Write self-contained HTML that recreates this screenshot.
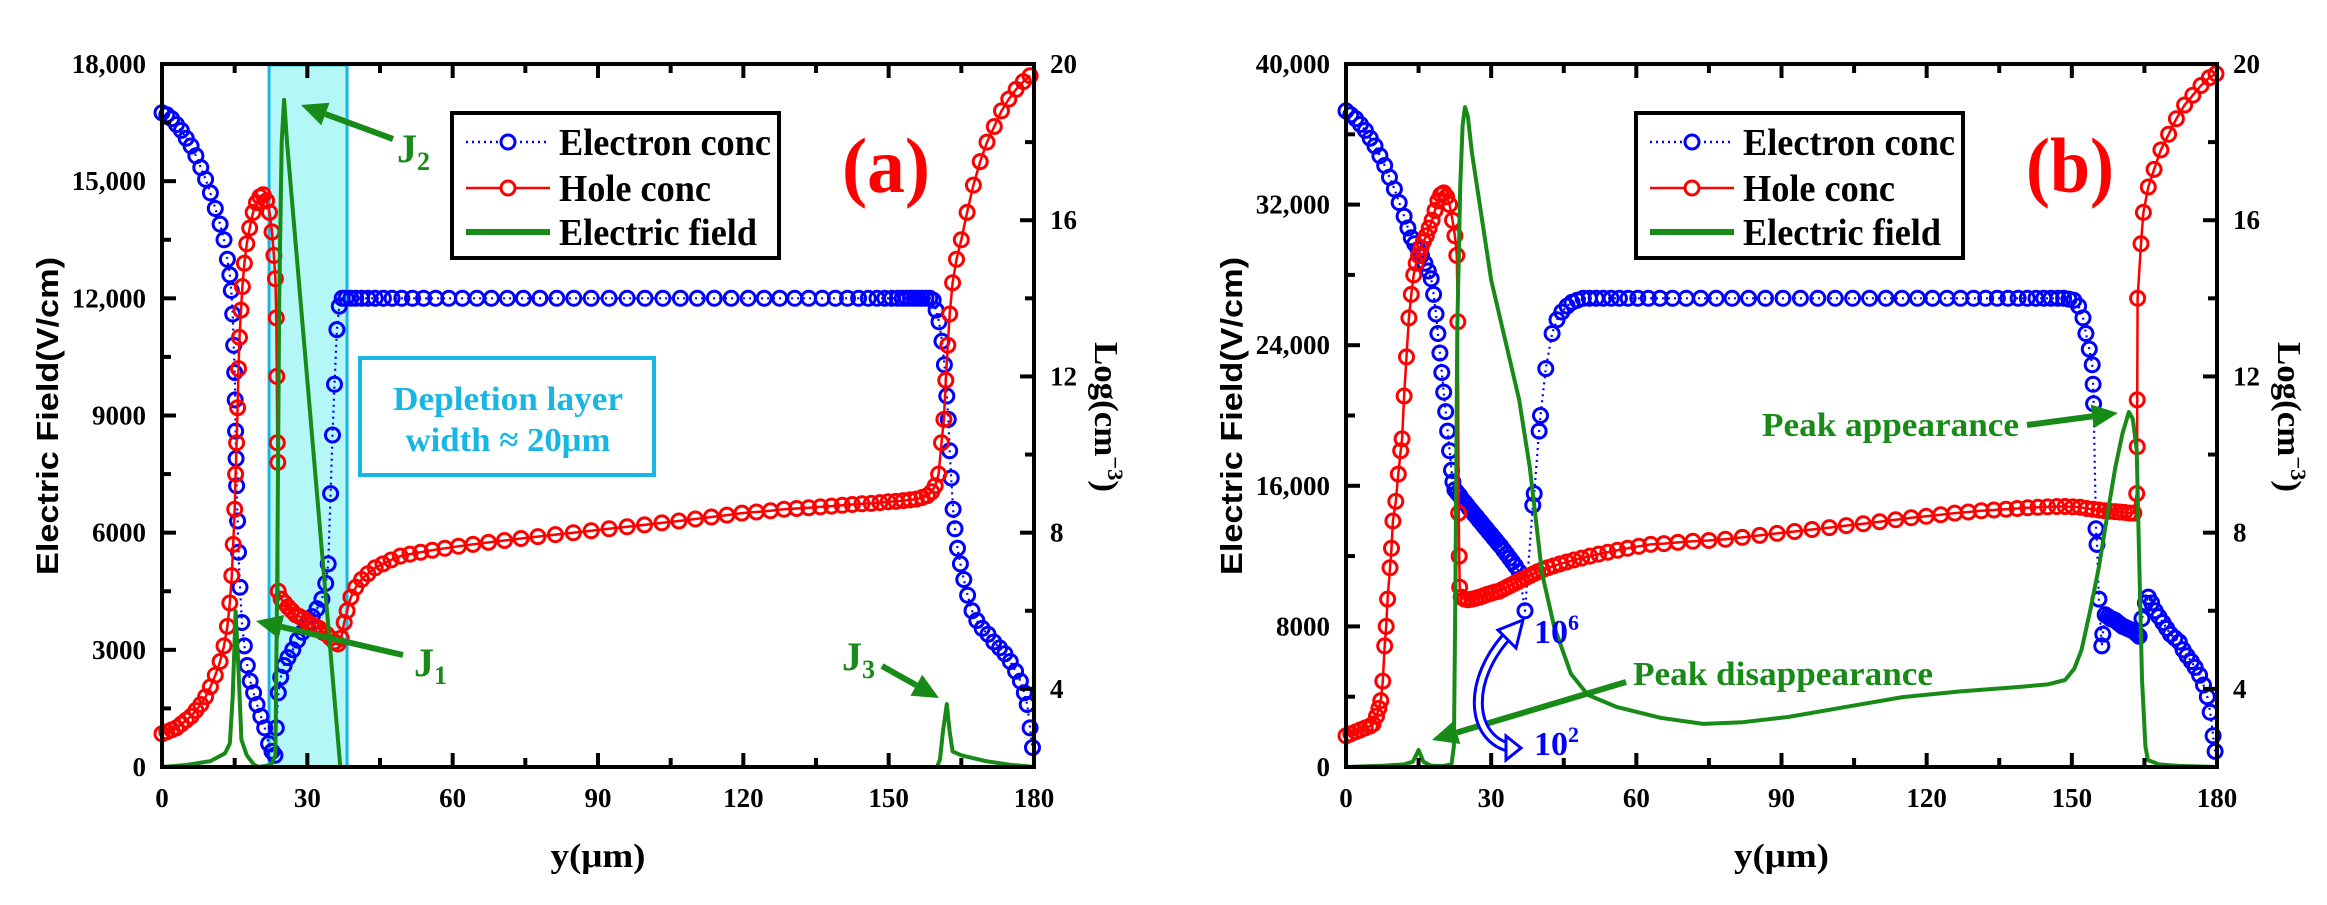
<!DOCTYPE html>
<html><head><meta charset="utf-8">
<style>
html,body{margin:0;padding:0;background:#fff;}
svg{display:block;}
text{font-family:"Liberation Serif","DejaVu Serif",serif;font-weight:bold;}
</style></head>
<body>
<svg id="chart" width="2327" height="905" viewBox="0 0 2327 905" xmlns="http://www.w3.org/2000/svg"></svg>
<script>
// ---------- DATA (x in µm, concentration as log10(cm^-3), field in V/cm) ----------
const electronA = [[0,18.75],[1,18.7],[2,18.6],[3,18.45],[4,18.3],[5,18.1],[6,17.9],[7,17.65],[8,17.35],[9,17.05],[10,16.7],[11,16.3],[12,15.9],[12.8,15.5],[13.5,15.0],[14,14.6],[14.3,14.2],[14.6,13.6],[14.8,12.8],[15,12.1],[15.1,11.4],[15.2,10.6],[15.3,9.9],[15.4,9.2],[15.6,8.3],[15.8,7.5],[16.1,6.6],[16.5,5.7],[17,5.1],[17.6,4.6],[18.2,4.2],[18.9,3.9],[19.6,3.6],[20.4,3.3],[21.2,3.0],[22,2.6],[22.7,2.4],[23.3,2.3],[23.6,3.0],[24,3.9],[24.5,4.3],[25.2,4.6],[26,4.8],[27,5.0],[28,5.25],[29,5.45],[30,5.65],[31,5.85],[32,6.05],[33,6.3],[33.8,6.7],[34.3,7.2],[34.8,9.0],[35.2,10.5],[35.6,11.8],[36.1,13.2],[36.6,13.8],[37.2,14.0],[38,14.0],[39,14.0],[40,14.0],[41.2,14.0],[42.5,14.0],[44,14.0],[45.7,14.0],[47.5,14.0],[49.5,14.0],[51.7,14.0],[54,14.0],[56.5,14.0],[59.2,14.0],[62,14.0],[65,14.0],[68,14.0],[71.3,14.0],[74.6,14.0],[78,14.0],[81.5,14.0],[85,14.0],[88.6,14.0],[92.3,14.0],[96,14.0],[99.7,14.0],[103.4,14.0],[107,14.0],[110.5,14.0],[114,14.0],[117.5,14.0],[121,14.0],[124.3,14.0],[127.5,14.0],[130.6,14.0],[133.5,14.0],[136.3,14.0],[139,14.0],[141.5,14.0],[143.8,14.0],[145.8,14.0],[147.6,14.0],[149.2,14.0],[150.6,14.0],[151.8,14.0],[152.8,14.0],[153.7,14.0],[154.5,14.0],[155.3,14.0],[156.1,14.0],[156.9,14.0],[157.7,14.0],[158.5,14.0],[159.2,13.95],[159.8,13.7],[160.4,13.4],[161,12.9],[161.5,12.3],[162,11.5],[162.3,10.9],[162.6,10.1],[162.9,9.4],[163.3,8.6],[163.7,8.1],[164.2,7.6],[164.8,7.2],[165.5,6.8],[166.3,6.4],[167.2,6.0],[168.2,5.75],[169.3,5.55],[170.5,5.4],[171.7,5.2],[172.9,5.05],[174,4.9],[175.1,4.7],[176.2,4.45],[177.2,4.2],[178,3.9],[178.6,3.6],[179.2,3.0],[179.7,2.5]];
const holeA = [[0,2.85],[1,2.9],[2,2.95],[3,3.0],[4,3.1],[5,3.2],[6,3.3],[7,3.45],[8,3.6],[9,3.8],[10,4.05],[11,4.35],[12,4.7],[12.8,5.1],[13.5,5.6],[14,6.2],[14.4,6.9],[14.7,7.7],[15,8.6],[15.2,9.5],[15.4,10.3],[15.6,11.2],[15.8,12.2],[16,13.0],[16.3,13.7],[16.6,14.3],[17,14.9],[17.5,15.4],[18.1,15.8],[18.8,16.2],[19.5,16.45],[20.2,16.6],[20.9,16.65],[21.6,16.5],[22.2,16.2],[22.7,15.7],[23.1,15.1],[23.4,14.5],[23.6,13.5],[23.7,12.0],[23.8,10.3],[23.9,9.8],[24.0,6.5],[24.6,6.3],[25.3,6.2],[26,6.1],[26.8,6.0],[27.6,5.9],[28.4,5.85],[29.2,5.8],[30,5.7],[30.8,5.65],[31.6,5.6],[32.4,5.55],[33.2,5.45],[34,5.4],[34.8,5.3],[35.6,5.2],[36.3,5.15],[37,5.3],[37.6,5.7],[38.2,6.0],[39,6.35],[40,6.6],[41.2,6.8],[42.5,6.95],[44,7.1],[45.6,7.2],[47.3,7.3],[49.2,7.4],[51.2,7.45],[53.4,7.5],[55.8,7.55],[58.4,7.6],[61.2,7.65],[64.2,7.7],[67.4,7.75],[70.7,7.8],[74.1,7.85],[77.6,7.9],[81.2,7.95],[84.9,8.0],[88.6,8.05],[92.3,8.1],[96,8.15],[99.6,8.2],[103.2,8.25],[106.7,8.3],[110.1,8.35],[113.4,8.4],[116.6,8.45],[119.7,8.5],[122.7,8.53],[125.6,8.56],[128.4,8.6],[131,8.62],[133.5,8.64],[135.9,8.66],[138.2,8.68],[140.4,8.7],[142.5,8.72],[144.5,8.74],[146.4,8.75],[148.2,8.77],[149.9,8.79],[151.5,8.8],[153,8.82],[154.4,8.84],[155.7,8.86],[156.9,8.9],[158,8.95],[158.9,9.05],[159.6,9.2],[160.3,9.5],[160.9,10.3],[161.4,10.9],[161.8,11.9],[162.2,12.8],[162.6,13.6],[163.2,14.4],[164,15.0],[165,15.5],[166.2,16.2],[167.5,16.9],[168.9,17.5],[170.3,18.0],[171.8,18.4],[173.3,18.8],[174.8,19.1],[176.3,19.35],[177.8,19.55],[179.2,19.7]];
const fieldA = [[0,0],[5,50],[10,150],[13,350],[14,600],[14.6,1800],[15.2,3990],[15.8,2500],[16.4,700],[17.5,300],[19,60],[20,0],[22.5,50],[23.4,300],[23.8,5000],[24.2,12000],[24.7,16000],[25.2,17080],[25.8,16000],[36.8,0],[60,0],[160,0],[160.6,200],[161.2,900],[162,1610],[162.6,900],[163.2,400],[165,300],[170,150],[175,60],[180,0]];

const electronB = [[0,18.8],[1,18.7],[2,18.6],[3,18.45],[4,18.3],[5,18.1],[6,17.9],[7,17.65],[8,17.4],[9,17.1],[10,16.8],[11,16.45],[12,16.1],[12.8,15.8],[13.5,15.55],[14.2,15.4],[14.9,15.25],[15.6,15.1],[16.3,14.9],[17,14.7],[17.6,14.5],[18.1,14.1],[18.6,13.6],[19,13.1],[19.4,12.6],[19.8,12.1],[20.2,11.6],[20.6,11.1],[21,10.6],[21.4,10.1],[21.8,9.6],[22.1,9.3],[22.5,9.1],[23,9.02],[23.5,8.95],[24,8.85],[24.5,8.78],[25,8.7],[25.5,8.62],[26,8.55],[26.5,8.47],[27,8.4],[27.5,8.32],[28,8.25],[28.5,8.17],[29,8.1],[29.5,8.02],[30,7.95],[30.5,7.87],[31,7.8],[31.5,7.72],[32,7.65],[32.6,7.55],[33.2,7.45],[33.8,7.35],[34.4,7.25],[35,7.15],[35.8,7.0],[37,6.0],[38.6,8.7],[38.9,9.0],[39.9,10.6],[40.2,11.0],[41.3,12.2],[42.6,13.1],[43.6,13.45],[44.6,13.65],[45.7,13.8],[46.7,13.9],[47.8,13.95],[49,14.0],[50.3,14.0],[51.7,14.0],[53.2,14.0],[54.8,14.0],[56.5,14.0],[58.3,14.0],[60.3,14.0],[62.5,14.0],[64.9,14.0],[67.5,14.0],[70.3,14.0],[73.3,14.0],[76.5,14.0],[79.8,14.0],[83.2,14.0],[86.7,14.0],[90.3,14.0],[93.9,14.0],[97.5,14.0],[101.1,14.0],[104.7,14.0],[108.2,14.0],[111.6,14.0],[114.9,14.0],[118.1,14.0],[121.2,14.0],[124.2,14.0],[127,14.0],[129.7,14.0],[132.2,14.0],[134.6,14.0],[136.8,14.0],[138.9,14.0],[140.8,14.0],[142.6,14.0],[144.2,14.0],[145.7,14.0],[147.1,14.0],[148.3,14.0],[149.4,13.98],[150.4,13.95],[151.4,13.8],[152.3,13.5],[152.9,13.1],[153.6,12.7],[154.2,12.3],[154.4,11.8],[154.5,11.3],[155,8.1],[155.2,7.7],[155.6,6.3],[156.2,5.1],[156.4,5.4],[156.9,5.9],[157.5,5.85],[158,5.8],[158.5,5.78],[159,5.75],[159.5,5.7],[160,5.65],[160.5,5.6],[161,5.58],[161.5,5.55],[162,5.52],[162.5,5.5],[163,5.45],[163.5,5.4],[163.9,5.35],[164.5,5.8],[165.2,6.2],[165.8,6.35],[166.5,6.2],[167.2,6.0],[168,5.85],[168.8,5.7],[169.6,5.55],[170.4,5.4],[171.3,5.3],[172.2,5.2],[173,5.0],[173.8,4.85],[174.7,4.7],[175.5,4.55],[176.4,4.35],[177.2,4.1],[178,3.8],[178.6,3.4],[179.2,2.8],[179.6,2.4]];
const holeB = [[0,2.8],[1,2.85],[2,2.9],[3,2.95],[4,3.0],[5,3.05],[5.6,3.1],[6.3,3.3],[6.8,3.5],[7.2,3.7],[7.6,4.2],[8,5.1],[8.3,5.6],[8.6,6.3],[9.1,7.1],[9.4,7.6],[9.7,8.3],[10.3,8.8],[10.8,9.5],[11.3,10.1],[11.6,10.4],[12,11.5],[12.5,12.5],[13,13.5],[13.5,14.1],[14,14.6],[14.5,14.9],[15,15.1],[15.5,15.3],[16,15.45],[16.6,15.6],[17.2,15.8],[17.8,16.0],[18.4,16.25],[19,16.5],[19.6,16.65],[20.2,16.7],[20.8,16.6],[21.4,16.4],[22,16.0],[22.5,15.6],[22.9,15.1],[23.1,13.4],[23.3,8.5],[23.4,7.4],[23.5,6.6],[23.8,6.35],[24.5,6.3],[25.2,6.28],[26,6.3],[26.8,6.32],[27.6,6.35],[28.4,6.38],[29.2,6.42],[30,6.45],[30.8,6.48],[31.6,6.5],[32.4,6.55],[33.2,6.6],[34,6.65],[34.8,6.7],[35.6,6.75],[36.4,6.8],[37.2,6.85],[38,6.9],[38.8,6.95],[39.6,7.0],[40.6,7.05],[41.7,7.1],[42.9,7.15],[44.2,7.2],[45.6,7.25],[47.1,7.3],[48.7,7.35],[50.4,7.4],[52.2,7.45],[54.1,7.5],[56.1,7.55],[58.2,7.6],[60.5,7.65],[63,7.7],[65.7,7.72],[68.6,7.75],[71.7,7.78],[75,7.8],[78.4,7.83],[81.9,7.88],[85.5,7.93],[89.1,7.98],[92.7,8.03],[96.3,8.08],[99.9,8.13],[103.4,8.18],[106.9,8.23],[110.3,8.28],[113.6,8.33],[116.8,8.38],[119.9,8.42],[122.9,8.46],[125.8,8.5],[128.6,8.53],[131.3,8.56],[133.9,8.58],[136.4,8.6],[138.7,8.62],[140.9,8.64],[143,8.65],[145,8.66],[146.9,8.67],[148.6,8.67],[150.2,8.66],[151.7,8.65],[153.1,8.62],[154.4,8.6],[155.6,8.58],[156.7,8.56],[157.8,8.55],[158.9,8.54],[159.9,8.53],[160.9,8.52],[161.9,8.5],[162.8,8.5],[163.4,9.0],[163.5,10.2],[163.5,11.4],[163.6,14.0],[164.3,15.4],[164.8,16.2],[165.8,16.85],[167,17.3],[168.4,17.8],[170,18.2],[171.6,18.6],[173.3,18.95],[175,19.2],[176.7,19.45],[178.4,19.65],[179.8,19.75]];
const fieldB = [[0,0],[8,80],[12,150],[13.8,300],[15,970],[16,300],[17.5,80],[20,50],[21.8,150],[22.3,1200],[22.6,10000],[23,25000],[23.6,33000],[24.1,36500],[24.6,37550],[25.2,37000],[26,35000],[30,27700],[35.8,20880],[38,17000],[40.5,11040],[43,8000],[46.5,5290],[50,4100],[56,3410],[65,2800],[73.8,2450],[82,2550],[91.5,2850],[103,3400],[115,3980],[127,4300],[139,4550],[145,4700],[148.6,4950],[150.5,5600],[152,6660],[153.8,8900],[155.6,11380],[157.3,14300],[159,17070],[160.5,19000],[161.8,20200],[162.6,19800],[163.4,18040],[163.9,12000],[164.5,5000],[165.2,1200],[165.7,400],[168,150],[172,60],[180,0]];

const xTicks = [0,30,60,90,120,150,180];
const xTickLabels = ["0","30","60","90","120","150","180"];
const rightTicks = [4,8,12,16,20];
const rightTickLabels = ["4","8","12","16","20"];
const leftTicksA = [0,3000,6000,9000,12000,15000,18000];
const leftTickLabelsA = ["0","3000","6000","9000","12,000","15,000","18,000"];
const leftTicksB = [0,8000,16000,24000,32000,40000];
const leftTickLabelsB = ["0","8000","16,000","24,000","32,000","40,000"];

// ---------- DRAWING ----------
const NS = "http://www.w3.org/2000/svg";
const svg = document.getElementById('chart');
function mk(tag, attrs, parent){
  const e = document.createElementNS(NS, tag);
  for (const k in attrs) e.setAttribute(k, attrs[k]);
  (parent||svg).appendChild(e);
  return e;
}
function txt(str, x, y, size, opts, parent){
  opts = opts||{};
  const t = mk('text', {x:x, y:y, 'font-size':size, fill:opts.fill||'#000', 'text-anchor':opts.anchor||'middle'}, parent);
  if (opts.family) t.setAttribute('style','font-family:'+opts.family);
  if (opts.len){ t.setAttribute('textLength', opts.len); t.setAttribute('lengthAdjust','spacingAndGlyphs'); }
  if (opts.transform) t.setAttribute('transform', opts.transform);
  t.textContent = str;
  return t;
}

const GREEN = '#178a17', BLUE = '#0000ff', RED = '#ff0000', CYAN = '#19b6e4';

function panel(cfg){
  const g = mk('g', {});
  
  
  const L = cfg.left, R = cfg.right, T = 64, B = 767;
  const sx = v => L + (v/180)*(R-L);
  const sl = v => B - (cfg.yMaxL ? v/cfg.yMaxL : 0)*(B-T);
  const sr = v => B - ((v-2)/18)*(B-T);

  if (cfg.shade){
    const s = mk('rect', {x:sx(cfg.shade[0]), y:T+1, width:sx(cfg.shade[1])-sx(cfg.shade[0]), height:B-T-1, fill:'#b3f7f7', stroke:CYAN, 'stroke-width':3}, g);
    
    
  }

  function series(data, scaleY, color, dash, width, markers, name){
    const sg = mk('g', {}, g);
    
    
    const d = data.map((p,i)=>(i?'L':'M')+sx(p[0]).toFixed(1)+','+scaleY(p[1]).toFixed(1)).join('');
    const attrs = {d:d, fill:'none', stroke:color, 'stroke-width':width, 'stroke-linejoin':'round'};
    if (dash) attrs['stroke-dasharray'] = dash;
    mk('path', attrs, sg);
    if (markers){
      data.forEach(p=>{
        const c = mk('circle', {cx:sx(p[0]).toFixed(1), cy:scaleY(p[1]).toFixed(1), r:7, fill:'none', stroke:color, 'stroke-width':3}, sg);
        
        
      });
    }
  }
  series(cfg.electron, sr, BLUE, '2 4', 2.2, true, 'electron-conc-series');
  series(cfg.hole, sr, RED, null, 2.5, true, 'hole-conc-series');
  series(cfg.field, sl, GREEN, null, 4, false, 'electric-field-series');

  // frame
  const fr = mk('rect', {x:L, y:T, width:R-L, height:B-T, fill:'none', stroke:'#000', 'stroke-width':4}, g);
  
  

  // x ticks
  const xg = mk('g', {}, g);
  
  
  for (let v=0; v<=180; v+=15){
    const len = v%30===0 ? 14 : 9;
    mk('line', {x1:sx(v), x2:sx(v), y1:B, y2:B-len, stroke:'#000', 'stroke-width':4}, xg);
    mk('line', {x1:sx(v), x2:sx(v), y1:T, y2:T+len, stroke:'#000', 'stroke-width':4}, xg);
  }
  xTicks.forEach((v,i)=>{
    const t = txt(xTickLabels[i], sx(v), 807, 27, {}, xg);
    
    
  });
  const xt = txt('y(μm)', (L+R)/2, 867, 34, {len:95}, xg);
  
  

  // left ticks
  const lg = mk('g', {}, g);
  
  
  const step = cfg.leftTicks[1]/2;
  for (let v=0; v<=cfg.yMaxL+0.1; v+=step){
    const len = Math.round(v/step)%2===0 ? 14 : 9;
    mk('line', {x1:L, x2:L+len, y1:sl(v), y2:sl(v), stroke:'#000', 'stroke-width':4}, lg);
  }
  cfg.leftTicks.forEach((v,i)=>{
    const t = txt(cfg.leftLabels[i], L-16, sl(v)+9, 27, {anchor:'end'}, lg);
    
    
  });
  const lt = txt('Electric Field(V/cm)', 0, 0, 31, {family:'"Liberation Sans",sans-serif', len:318, transform:'translate('+(L-115+11)+',416) rotate(-90)'}, lg);
  
  

  // right ticks
  const rg = mk('g', {}, g);
  
  
  for (let v=2; v<=20; v+=2){
    const len = v%4===0 ? 14 : 9;
    mk('line', {x1:R, x2:R-len, y1:sr(v), y2:sr(v), stroke:'#000', 'stroke-width':4}, rg);
  }
  rightTicks.forEach((v,i)=>{
    const t = txt(rightTickLabels[i], R+16, sr(v)+9, 27, {anchor:'start'}, rg);
    
    
  });
  const rt = mk('text', {'font-size':34, 'text-anchor':'middle', textLength:150, lengthAdjust:'spacingAndGlyphs', transform:'translate('+(R+72-11)+',417) rotate(90)'}, rg);
  
  
  rt.appendChild(document.createTextNode('Log(cm'));
  const sup = mk('tspan', {dy:-13, 'font-size':22}, rt); sup.textContent = '−3';
  const cl = mk('tspan', {dy:13}, rt); cl.textContent = ')';

  // legend
  const lgd = mk('g', {}, g);
  
  
  const lx = L + 290;
  mk('rect', {x:lx, y:113, width:327, height:145, fill:'#fff', stroke:'#000', 'stroke-width':4}, lgd);
  const rows = [
    {y:142, c:BLUE, dash:'2 4', m:true, label:'Electron conc', len:212, n:'legend-electron'},
    {y:188, c:RED, dash:null, m:true, label:'Hole conc', len:152, n:'legend-hole'},
    {y:232, c:GREEN, dash:null, m:false, label:'Electric field', len:198, n:'legend-field'}];
  rows.forEach(r=>{
    const eg = mk('g', {}, lgd);
    
    
    const a = {x1:lx+14, x2:lx+98, y1:r.y, y2:r.y, stroke:r.c, 'stroke-width':r.m?2.5:6};
    if (r.dash) a['stroke-dasharray'] = r.dash;
    mk('line', a, eg);
    if (r.m) mk('circle', {cx:lx+56, cy:r.y, r:7, fill:'#fff', stroke:r.c, 'stroke-width':3}, eg);
    txt(r.label, lx+107, r.y+13, 38, {anchor:'start', len:r.len}, eg);
  });
  const pl = txt(cfg.tag, L+724, 192, 78, {fill:RED, len:88}, g);
  
  
  return g;
}

panel({name:'panel-a', left:162, right:1034, yMaxL:18000, leftTicks:leftTicksA, leftLabels:leftTickLabelsA,
  electron:electronA, hole:holeA, field:fieldA, shade:[22.1,38.2], tag:'(a)'});
panel({name:'panel-b', left:1346, right:2217, yMaxL:40000, leftTicks:leftTicksB, leftLabels:leftTickLabelsB,
  electron:electronB, hole:holeB, field:fieldB, shade:null, tag:'(b)'});

// ---------- ANNOTATIONS ----------
function arrow(x1,y1,x2,y2,color,name){
  const g = mk('g', {});
  
  
  const ang = Math.atan2(y2-y1, x2-x1), hl = 26, hw = 12;
  const bx = x2 - hl*Math.cos(ang), by = y2 - hl*Math.sin(ang);
  mk('line', {x1:x1, y1:y1, x2:bx, y2:by, stroke:color, 'stroke-width':6}, g);
  const px = -Math.sin(ang)*hw, py = Math.cos(ang)*hw;
  mk('polygon', {points:`${x2},${y2} ${bx+px},${by+py} ${bx-px},${by-py}`, fill:color}, g);
}
function jlabel(sub, x, y, name){
  const t = mk('text', {x:x, y:y, 'font-size':40, fill:GREEN, 'text-anchor':'start'});
  
  
  t.appendChild(document.createTextNode('J'));
  const s = mk('tspan', {dy:8, 'font-size':26}, t); s.textContent = sub;
}
// depletion box
const db = mk('g', {});


mk('rect', {x:360, y:358, width:294, height:117, fill:'#fff', stroke:CYAN, 'stroke-width':4}, db);
txt('Depletion layer', 508, 410, 34, {fill:CYAN, len:230}, db);
txt('width ≈ 20μm', 508, 451, 34, {fill:CYAN, len:205}, db);

arrow(393,139,301,105,GREEN,'j2-arrow');
jlabel('2', 397, 162, 'j2-label');
arrow(403,655,256,621,GREEN,'j1-arrow');
jlabel('1', 414, 676, 'j1-label');
arrow(882,666,939,698,GREEN,'j3-arrow');
jlabel('3', 842, 670, 'j3-label');

const pa = txt('Peak appearance', 1762, 436, 34, {fill:GREEN, anchor:'start', len:257});


arrow(2027,425,2118,413,GREEN,'peak-appearance-arrow');
const pd = txt('Peak disappearance', 1633, 685, 34, {fill:GREEN, anchor:'start', len:300});


arrow(1626,682,1432,740,GREEN,'peak-disappearance-arrow');

// 10^6 / 10^2 labels and curved arrow
const ca = mk('g', {});


const cpath = 'M1512,748 C1470,740 1465,680 1510,633';
mk('path', {d:cpath, fill:'none', stroke:BLUE, 'stroke-width':11}, ca);
mk('path', {d:cpath, fill:'none', stroke:'#fff', 'stroke-width':5}, ca);
mk('polygon', {points:'1523,620 1498,630 1516,648', fill:'#fff', stroke:BLUE, 'stroke-width':3}, ca);
mk('polygon', {points:'1521,748 1506,736 1506,760', fill:'#fff', stroke:BLUE, 'stroke-width':3}, ca);
function power(exp, x, y, name){
  const t = mk('text', {x:x, y:y, 'font-size':34, fill:BLUE, 'text-anchor':'start'});
  
  
  t.appendChild(document.createTextNode('10'));
  const s = mk('tspan', {dy:-13, 'font-size':22}, t); s.textContent = exp;
}
power('6', 1534, 643, 'label-1e6');
power('2', 1534, 755, 'label-1e2');
</script>
</body></html>
